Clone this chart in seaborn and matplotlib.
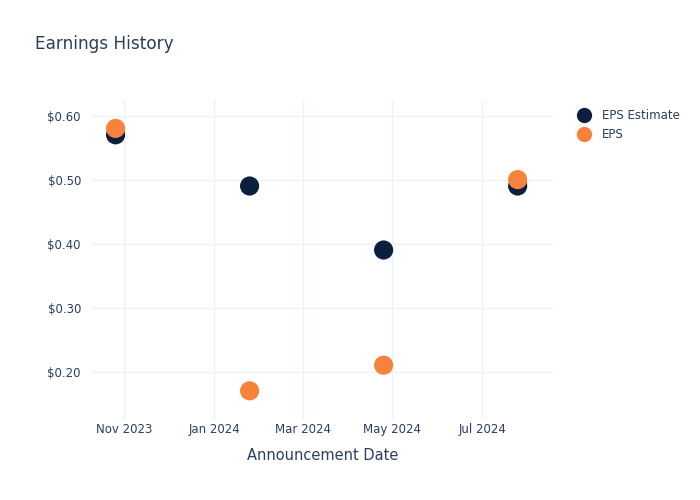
import matplotlib
matplotlib.use("Agg")
import matplotlib.pyplot as plt
import seaborn as sns
import pandas as pd
from matplotlib.lines import Line2D

dates = ["2023-10-26", "2024-01-25", "2024-04-25", "2024-07-25"]
eps_estimate = [0.57, 0.49, 0.39, 0.49]
eps_actual = [0.58, 0.17, 0.21, 0.50]
series_names = ["EPS Estimate", "EPS"]
colors = ["#0c1f3f", "#f7823a"]
ytick_vals = [0.20, 0.30, 0.40, 0.50, 0.60]
xtick_dates = ["2023-11-01", "2024-01-01", "2024-03-01", "2024-05-01", "2024-07-01"]
xtick_labels = ["Nov 2023", "Jan 2024", "Mar 2024", "May 2024", "Jul 2024"]

df = pd.DataFrame({
    "date": pd.to_datetime(dates * 2),
    "value": eps_estimate + eps_actual,
    "series": [series_names[0]] * len(dates) + [series_names[1]] * len(dates),
})

sns.set_style("white")
plt.rcParams["font.family"] = ["DejaVu Sans"]
text_color = "#2a3f5f"
grid_color = "#eef2f8"

fig = plt.figure(figsize=(7, 5), dpi=100)
ax = fig.add_axes([92 / 700, 80 / 500, (553 - 92) / 700, 320 / 500])

sns.scatterplot(data=df, x="date", y="value", hue="series", palette=colors,
                hue_order=series_names, s=190, linewidth=0, ax=ax, legend=False, zorder=3)

ax.set_ylim(0.1244, 0.6244)
ax.set_xlim(pd.Timestamp("2023-10-10"), pd.Timestamp("2024-08-18"))
ax.set_yticks(ytick_vals)
ax.set_yticklabels([f"${v:.2f}" for v in ytick_vals])
ax.set_xticks(pd.to_datetime(xtick_dates))
ax.set_xticklabels(xtick_labels)
ax.grid(True, color=grid_color, linewidth=1)
ax.set_axisbelow(True)
for sp in ax.spines.values():
    sp.set_visible(False)
ax.tick_params(axis="both", length=0, colors=text_color, labelsize=8.5)
ax.tick_params(axis="x", pad=2)
ax.tick_params(axis="y", pad=8)
ax.set_xlabel("Announcement Date", color=text_color, fontsize=10.5, labelpad=9)
ax.set_ylabel("")

fig.text(35 / 700, 1 - 44 / 500, "Earnings History", color=text_color, fontsize=12.2, va="center", ha="left")

handles = [Line2D([0], [0], marker="o", linestyle="", markersize=11, markerfacecolor=c,
                  markeredgewidth=0) for c in colors]
fig.legend(handles, series_names, loc="upper left", bbox_to_anchor=(572 / 700, 1 - 104 / 500),
           frameon=False, fontsize=8.5, labelcolor=text_color, handletextpad=0.9,
           labelspacing=0.55, borderaxespad=0, handlelength=1.2)

fig.savefig("out.png", dpi=100)
